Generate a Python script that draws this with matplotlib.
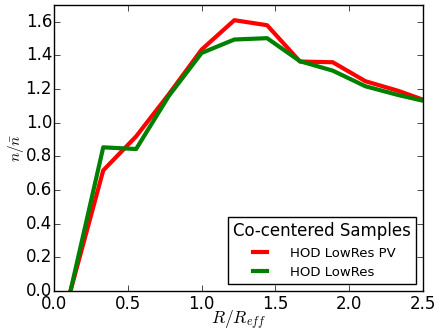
import matplotlib
matplotlib.use("Agg")
import matplotlib.pyplot as plt

r = [0.111, 0.333, 0.556, 0.778, 1.0, 1.222, 1.444, 1.667, 1.889, 2.111, 2.333, 2.556]
pv = [0.0, 0.717, 0.919, 1.17, 1.435, 1.61, 1.58, 1.364, 1.36, 1.247, 1.19, 1.12]
lowres = [0.0, 0.854, 0.844, 1.16, 1.415, 1.495, 1.503, 1.366, 1.31, 1.217, 1.165, 1.12]

plt.style.use('classic')
fig = plt.figure(figsize=(4.4, 3.36), dpi=100, facecolor='white')
ax = fig.add_axes([0.123, 0.134, 0.838, 0.851])
ax.plot(r, pv, color='red', lw=3, label='HOD LowRes PV')
ax.plot(r, lowres, color='green', lw=3, label='HOD LowRes')
ax.set_xlim(0, 2.5)
ax.set_ylim(0, 1.7)
ax.set_xticks([0.0, 0.5, 1.0, 1.5, 2.0, 2.5])
ax.set_yticks([0.0, 0.2, 0.4, 0.6, 0.8, 1.0, 1.2, 1.4, 1.6])
ax.tick_params(axis='x', labelsize=12, pad=3)
ax.tick_params(axis='y', labelsize=12, pad=1.5)
ax.set_xlabel(r'$R/R_{eff}$', fontsize=12.5)
ax.set_ylabel(r'$n/\bar{n}$', fontsize=11)
ax.yaxis.set_label_coords(-0.075, 0.5)
ax.xaxis.set_label_coords(0.5, -0.062)
leg = ax.legend(loc='lower right', title='Co-centered Samples', fontsize=9.5,
                frameon=True, fancybox=False, borderaxespad=0.5,
                handlelength=1.7, handletextpad=1.4)
leg.get_title().set_fontsize(12)
fig.savefig('out.png', dpi=100, facecolor='white')
